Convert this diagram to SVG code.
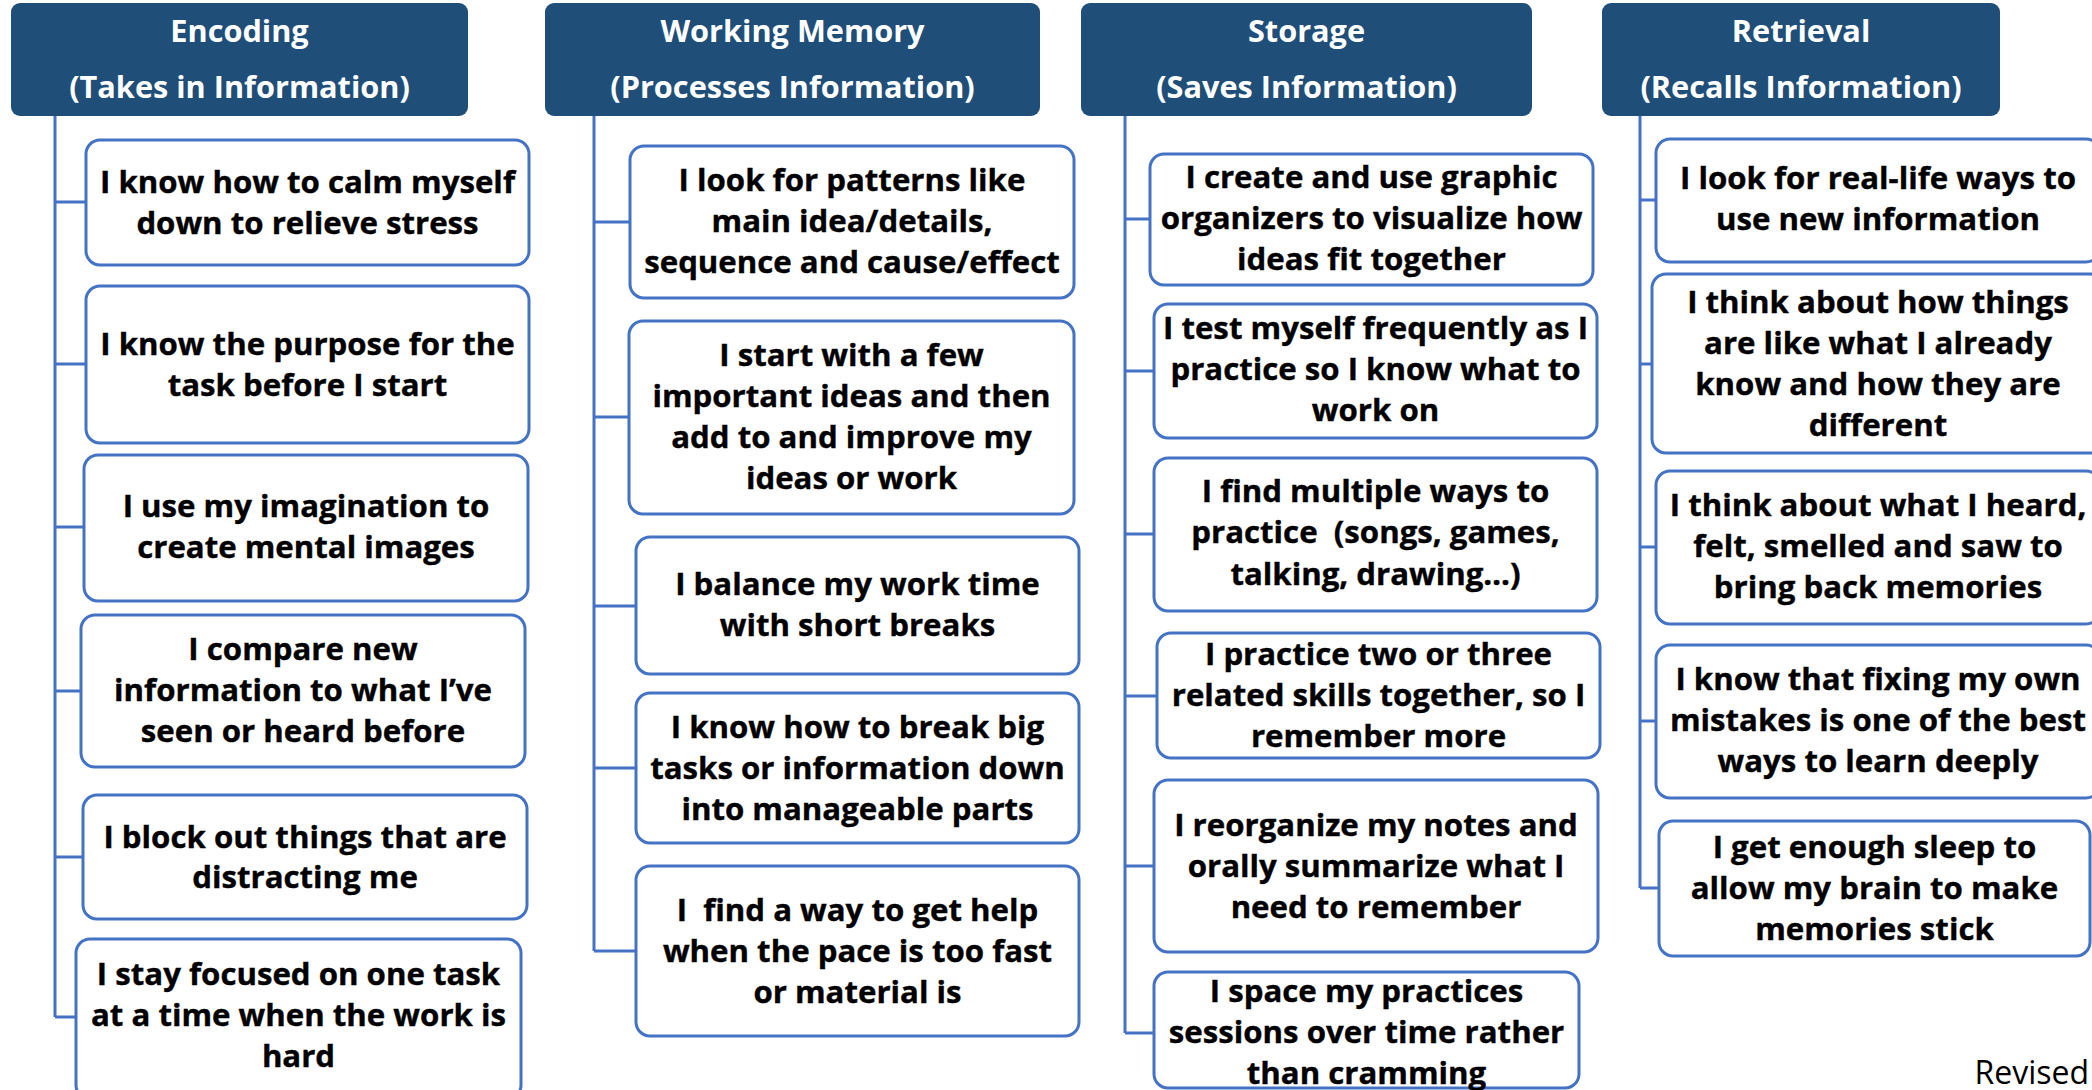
<svg xmlns="http://www.w3.org/2000/svg" width="2092" height="1090" viewBox="0 0 2092 1090">
  <style>
    .hdr rect { fill: #1F4E79; }
    .hdr text { fill: #FFFFFF; font-family: "Open Sans", "Noto Sans", "Liberation Sans", sans-serif; font-weight: bold; font-size: 30.7px; text-anchor: middle; }
    .node rect { fill: #FFFFFF; stroke: #4472C4; stroke-width: 3; }
    .node text { fill: #000000; stroke: #000000; stroke-width: 0.4; font-family: "Open Sans", "Noto Sans", "Liberation Sans", sans-serif; font-weight: bold; font-size: 31.2px; text-anchor: middle; }
    #connectors path { fill: none; stroke: #4472C4; stroke-width: 3; }
    .note { fill: #000000; font-family: "Open Sans", "Noto Sans", "Liberation Sans", sans-serif; font-size: 32px; text-anchor: end; }
  </style>

  <rect x="0" y="0" width="2092" height="1090" fill="#FFFFFF"/>

  <!-- trunks and branches from each stage header to its items -->
  <g id="connectors">
    <path d="M55 116 V1017 M55 202 H86 M55 364 H86 M55 527 H84 M55 691 H81 M55 857 H83 M55 1017 H76"/>
    <path d="M594 116 V951 M594 222 H630 M594 417 H629 M594 606 H636 M594 768 H636 M594 951 H636"/>
    <path d="M1125 116 V1033 M1125 219 H1150 M1125 371 H1154 M1125 534 H1154 M1125 696 H1157 M1125 866 H1154 M1125 1033 H1154"/>
    <path d="M1640 116 V888 M1640 200 H1656 M1640 364 H1652 M1640 547 H1656 M1640 721 H1656 M1640 888 H1659"/>
  </g>

  <!-- stage headers -->
  <g id="h-encoding" class="hdr">
    <rect x="11" y="3" width="457" height="113" rx="9"/>
    <text><tspan x="239.5" y="42">Encoding</tspan><tspan x="239.5" y="98">(Takes in Information)</tspan></text>
  </g>
  <g id="h-working-memory" class="hdr">
    <rect x="545" y="3" width="495" height="113" rx="9"/>
    <text><tspan x="792.5" y="42">Working Memory</tspan><tspan x="792.5" y="98">(Processes Information)</tspan></text>
  </g>
  <g id="h-storage" class="hdr">
    <rect x="1081" y="3" width="451" height="113" rx="9"/>
    <text><tspan x="1306.5" y="42">Storage</tspan><tspan x="1306.5" y="98">(Saves Information)</tspan></text>
  </g>
  <g id="h-retrieval" class="hdr">
    <rect x="1602" y="3" width="398" height="113" rx="9"/>
    <text><tspan x="1801" y="42">Retrieval</tspan><tspan x="1801" y="98">(Recalls Information)</tspan></text>
  </g>

  <!-- Encoding items -->
  <g id="e1" class="node">
    <rect x="86" y="140" width="443" height="125" rx="14"/>
    <text><tspan x="307.5" y="193">I know how to calm myself</tspan><tspan x="307.5" y="234">down to relieve stress</tspan></text>
  </g>
  <g id="e2" class="node">
    <rect x="86" y="286" width="443" height="157" rx="14"/>
    <text><tspan x="307.5" y="355">I know the purpose for the</tspan><tspan x="307.5" y="396">task before I start</tspan></text>
  </g>
  <g id="e3" class="node">
    <rect x="84" y="455" width="444" height="146" rx="14"/>
    <text><tspan x="306" y="517">I use my imagination to</tspan><tspan x="306" y="558">create mental images</tspan></text>
  </g>
  <g id="e4" class="node">
    <rect x="81" y="615" width="444" height="152" rx="14"/>
    <text><tspan x="303" y="660">I compare new</tspan><tspan x="303" y="701">information to what I’ve</tspan><tspan x="303" y="742">seen or heard before</tspan></text>
  </g>
  <g id="e5" class="node">
    <rect x="83" y="795" width="444" height="124" rx="14"/>
    <text><tspan x="305" y="848">I block out things that are</tspan><tspan x="305" y="888">distracting me</tspan></text>
  </g>
  <g id="e6" class="node">
    <rect x="76" y="939" width="445" height="160" rx="14"/>
    <text><tspan x="298.5" y="985">I stay focused on one task</tspan><tspan x="298.5" y="1026">at a time when the work is</tspan><tspan x="298.5" y="1067">hard</tspan></text>
  </g>

  <!-- Working Memory items -->
  <g id="w1" class="node">
    <rect x="630" y="146" width="444" height="152" rx="14"/>
    <text><tspan x="852" y="191">I look for patterns like</tspan><tspan x="852" y="232">main idea/details,</tspan><tspan x="852" y="273">sequence and cause/effect</tspan></text>
  </g>
  <g id="w2" class="node">
    <rect x="629" y="321" width="445" height="193" rx="14"/>
    <text><tspan x="851.5" y="366">I start with a few</tspan><tspan x="851.5" y="407">important ideas and then</tspan><tspan x="851.5" y="448">add to and improve my</tspan><tspan x="851.5" y="489">ideas or work</tspan></text>
  </g>
  <g id="w3" class="node">
    <rect x="636" y="537" width="443" height="137" rx="14"/>
    <text><tspan x="857.5" y="595">I balance my work time</tspan><tspan x="857.5" y="636">with short breaks</tspan></text>
  </g>
  <g id="w4" class="node">
    <rect x="636" y="693" width="443" height="150" rx="14"/>
    <text><tspan x="857.5" y="738">I know how to break big</tspan><tspan x="857.5" y="779">tasks or information down</tspan><tspan x="857.5" y="820">into manageable parts</tspan></text>
  </g>
  <g id="w5" class="node">
    <rect x="636" y="866" width="443" height="170" rx="14"/>
    <text xml:space="preserve"><tspan x="857.5" y="921">I  find a way to get help</tspan><tspan x="857.5" y="962">when the pace is too fast</tspan><tspan x="857.5" y="1003">or material is</tspan></text>
  </g>

  <!-- Storage items -->
  <g id="s1" class="node">
    <rect x="1150" y="154" width="443" height="131" rx="14"/>
    <text><tspan x="1371.5" y="188">I create and use graphic</tspan><tspan x="1371.5" y="229">organizers to visualize how</tspan><tspan x="1371.5" y="270">ideas fit together</tspan></text>
  </g>
  <g id="s2" class="node">
    <rect x="1154" y="304" width="443" height="134" rx="14"/>
    <text><tspan x="1375.5" y="339">I test myself frequently as I</tspan><tspan x="1375.5" y="380">practice so I know what to</tspan><tspan x="1375.5" y="421">work on</tspan></text>
  </g>
  <g id="s3" class="node">
    <rect x="1154" y="458" width="443" height="153" rx="14"/>
    <text xml:space="preserve"><tspan x="1375.5" y="502">I find multiple ways to</tspan><tspan x="1375.5" y="543">practice  (songs, games,</tspan><tspan x="1375.5" y="585">talking, drawing…)</tspan></text>
  </g>
  <g id="s4" class="node">
    <rect x="1157" y="633" width="443" height="125" rx="14"/>
    <text><tspan x="1378.5" y="665">I practice two or three</tspan><tspan x="1378.5" y="706">related skills together, so I</tspan><tspan x="1378.5" y="747">remember more</tspan></text>
  </g>
  <g id="s5" class="node">
    <rect x="1154" y="780" width="444" height="172" rx="14"/>
    <text><tspan x="1376" y="836">I reorganize my notes and</tspan><tspan x="1376" y="877">orally summarize what I</tspan><tspan x="1376" y="918">need to remember</tspan></text>
  </g>
  <g id="s6" class="node">
    <rect x="1154" y="972" width="425" height="116" rx="14"/>
    <text><tspan x="1366.5" y="1002">I space my practices</tspan><tspan x="1366.5" y="1043">sessions over time rather</tspan><tspan x="1366.5" y="1084">than cramming</tspan></text>
  </g>

  <!-- Retrieval items -->
  <g id="r1" class="node">
    <rect x="1656" y="139" width="444" height="123" rx="14"/>
    <text><tspan x="1878" y="189">I look for real-life ways to</tspan><tspan x="1878" y="230">use new information</tspan></text>
  </g>
  <g id="r2" class="node">
    <rect x="1652" y="274" width="452" height="179" rx="14"/>
    <text><tspan x="1878" y="313">I think about how things</tspan><tspan x="1878" y="354">are like what I already</tspan><tspan x="1878" y="395">know and how they are</tspan><tspan x="1878" y="436">different</tspan></text>
  </g>
  <g id="r3" class="node">
    <rect x="1656" y="471" width="444" height="153" rx="14"/>
    <text><tspan x="1878" y="516">I think about what I heard,</tspan><tspan x="1878" y="557">felt, smelled and saw to</tspan><tspan x="1878" y="598">bring back memories</tspan></text>
  </g>
  <g id="r4" class="node">
    <rect x="1656" y="645" width="444" height="153" rx="14"/>
    <text><tspan x="1878" y="690">I know that fixing my own</tspan><tspan x="1878" y="731">mistakes is one of the best</tspan><tspan x="1878" y="772">ways to learn deeply</tspan></text>
  </g>
  <g id="r5" class="node">
    <rect x="1659" y="821" width="431" height="135" rx="14"/>
    <text><tspan x="1874.5" y="858">I get enough sleep to</tspan><tspan x="1874.5" y="899">allow my brain to make</tspan><tspan x="1874.5" y="940">memories stick</tspan></text>
  </g>

  <text class="note" x="2089" y="1084">Revised</text>
</svg>
